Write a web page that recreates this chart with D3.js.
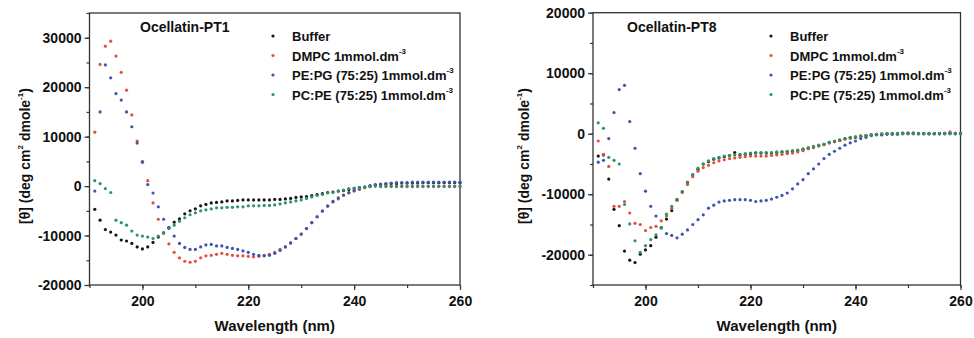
<!DOCTYPE html>
<html>
<head>
<meta charset="utf-8">
<script src="https://cdn.jsdelivr.net/npm/d3@7"></script>
<style>
  body { margin: 0; background: #fff; }
  svg { display: block; font-family: "Liberation Sans", Arial, sans-serif; font-weight: bold; }
</style>
</head>
<body>
<div id="chart"></div>
<script>
// longitudes de onda (nm)
const wavelength = [191,192,193,194,195,196,197,198,199,200,201,202,203,204,205,206,207,208,209,210,
  211,212,213,214,215,216,217,218,219,220,221,222,223,224,225,226,227,228,229,230,
  231,232,233,234,235,236,237,238,239,240,241,242,243,244,245,246,247,248,249,250,
  251,252,253,254,255,256,257,258,259,260];

const seriesNames = ["Buffer", "DMPC 1mmol.dm", "PE:PG (75:25) 1mmol.dm", "PC:PE (75:25) 1mmol.dm"];
const seriesColors = ["#151515", "#e2503a", "#3e55ad", "#2f9464"];

// Ocellatin-PT1
const pt1_buffer = [-4700,-6900,-8800,-9300,-9900,-10900,-11100,-11600,-12300,-12700,-12300,-11400,-10300,-9500,-8400,-7300,-6600,-5600,-5000,-4600,
  -4000,-3700,-3400,-3300,-3200,-3000,-3000,-2900,-2800,-2800,-2800,-2800,-2800,-2800,-2700,-2700,-2600,-2500,-2300,-2200,
  -2100,-1900,-1700,-1500,-1300,-1200,-1000,-900,-700,-500,-300,-200,0,200,300,400,500,500,600,600,
  600,600,700,700,700,700,700,700,700,700];
const pt1_dmpc = [10900,24600,28300,29300,26300,23000,19400,14400,9100,5000,1100,-3400,-6700,-9500,-11700,-13400,-14500,-15200,-15400,-15200,
  -14500,-14100,-14000,-13800,-13600,-13800,-14000,-14100,-14100,-14200,-14300,-14200,-14000,-13800,-13400,-12800,-12300,-11500,-10600,-9700,
  -8600,-7400,-6200,-5100,-4100,-3200,-2600,-1900,-1400,-1000,-700,-300,-100,0,0,-100,0,0,-100,0,
  0,-100,0,0,-100,0,0,-100,0,0];
const pt1_pepg = [-1000,15000,24500,21900,18700,17400,15000,12000,8700,4800,300,-1400,-4200,-6700,-8400,-10100,-11600,-12400,-12800,-12800,
  -12300,-11900,-11800,-12100,-12100,-12400,-12600,-12800,-13100,-13400,-13800,-14000,-14100,-14000,-13600,-13000,-12300,-11500,-10600,-9700,
  -8600,-7400,-6200,-5000,-4000,-3100,-2400,-1800,-1300,-900,-500,-200,100,300,400,500,600,700,700,700,
  800,800,800,800,800,800,800,800,800,800];
const pt1_pcpe = [1100,500,-500,-1300,-6900,-7400,-7900,-9100,-9900,-10100,-10300,-10600,-10100,-9400,-8600,-7900,-7100,-6400,-5800,-5400,
  -5000,-4800,-4600,-4400,-4400,-4300,-4300,-4200,-4200,-4000,-4000,-4000,-3900,-3900,-3800,-3600,-3400,-3200,-3000,-2800,
  -2500,-2200,-1900,-1700,-1400,-1200,-1000,-800,-500,-400,-300,-200,-100,0,-100,0,-100,-100,0,-100,
  -100,0,-100,-100,0,-100,-100,0,-100,-100];

// Ocellatin-PT8
const pt8_buffer = [-3700,-3500,-7500,-12500,-15200,-19400,-20900,-21300,-19900,-19200,-18500,-17100,-15500,-14100,-12700,-10900,-9600,-8100,-6800,-5900,
  -5000,-4600,-4200,-4000,-3800,-3600,-3100,-3500,-3400,-3300,-3200,-3200,-3200,-3200,-3100,-3000,-3000,-2900,-2800,-2600,
  -2400,-2200,-2000,-1800,-1500,-1300,-1100,-800,-700,-600,-400,-300,-200,-100,-100,0,0,0,100,100,
  100,0,0,0,0,0,0,100,0,0];
const pt8_dmpc = [-1200,-3400,-5400,-12000,-12000,-11200,-13100,-14800,-15000,-16000,-15500,-15300,-14400,-13600,-12300,-11000,-9700,-8400,-7100,-6200,
  -5600,-5200,-4800,-4500,-4300,-4100,-4000,-3900,-3800,-3700,-3700,-3700,-3700,-3600,-3500,-3400,-3300,-3200,-3000,-2800,
  -2500,-2300,-2000,-1800,-1500,-1300,-1100,-900,-700,-500,-400,-300,-200,-100,-100,0,0,0,0,100,
  100,0,0,0,0,0,100,300,100,0];
const pt8_pepg = [-4700,-4400,-800,3500,7300,8000,2000,-2400,-6600,-9500,-12000,-13600,-15600,-16500,-16800,-17200,-16600,-15900,-15000,-14200,
  -13400,-12300,-11800,-11300,-11100,-11000,-10900,-10900,-10900,-11000,-11200,-11100,-11000,-10800,-10500,-10200,-9800,-9100,-8300,-7600,
  -6600,-5800,-5000,-4100,-3400,-2900,-2400,-1900,-1500,-1200,-800,-600,-300,-200,-200,-100,-100,-100,0,0,
  0,0,0,0,0,0,0,0,0,0];
const pt8_pcpe = [1800,900,-3900,-4400,-5000,-11700,-14900,-17700,-19600,-18500,-17500,-16700,-15500,-13300,-12000,-10900,-9600,-8000,-6800,-5700,
  -5000,-4500,-4100,-3900,-3700,-3600,-3500,-3400,-3300,-3200,-3100,-3100,-3100,-3100,-3000,-3000,-2900,-2800,-2700,-2500,
  -2300,-2100,-1900,-1700,-1400,-1200,-1000,-800,-600,-500,-400,-300,-200,-100,0,0,0,0,0,0,
  0,0,0,0,0,0,0,0,0,0];

const yTicksPT1 = [-20000, -10000, 0, 10000, 20000, 30000];
const yTicksPT8 = [-20000, -10000, 0, 10000, 20000];
const xTicks = [200, 220, 240, 260];

const svg = d3.select("#chart").append("svg")
    .attr("width", 974)
    .attr("height", 338);

// etiquetas con guion normal, como en la figura original
const plainFormat = d => String(d);

function panel(cfg) {
  const x = d3.scaleLinear().domain([190, 260]).range([cfg.left, cfg.right]);
  const y = d3.scaleLinear().domain(cfg.yDomain).range([285, cfg.top]);
  const g = svg.append("g");

  // ejes con ticks mayores y menores
  const xMinor = [190, 200, 210, 220, 230, 240, 250, 260];
  g.append("g")
    .attr("transform", `translate(0,285)`)
    .call(d3.axisBottom(x).tickValues(xMinor).tickSize(3).tickFormat(""))
    .call(a => a.select(".domain").remove());
  g.append("g")
    .attr("transform", `translate(0,285)`)
    .call(d3.axisBottom(x).tickValues(xTicks).tickSize(5).tickPadding(6).tickFormat(plainFormat))
    .call(a => a.select(".domain").remove())
    .call(a => a.selectAll("text").attr("font-size", 14).attr("font-weight", "bold").attr("fill", "#111")
      .attr("font-family", "Liberation Sans, Arial, sans-serif"));

  const yMinor = d3.range(cfg.yDomain[0], cfg.yDomain[1] + 1, 5000);
  g.append("g")
    .attr("transform", `translate(${cfg.left},0)`)
    .call(d3.axisLeft(y).tickValues(yMinor).tickSize(3).tickFormat(""))
    .call(a => a.select(".domain").remove());
  g.append("g")
    .attr("transform", `translate(${cfg.left},0)`)
    .call(d3.axisLeft(y).tickValues(cfg.yTicks).tickSize(5).tickPadding(3).tickFormat(plainFormat))
    .call(a => a.select(".domain").remove())
    .call(a => a.selectAll("text").attr("font-size", 14).attr("font-weight", "bold").attr("fill", "#111")
      .attr("font-family", "Liberation Sans, Arial, sans-serif"));
  g.selectAll(".tick line").attr("stroke", "#333").attr("stroke-width", 1.2);

  // marco
  g.append("rect")
    .attr("x", cfg.left).attr("y", cfg.top)
    .attr("width", cfg.right - cfg.left).attr("height", 285 - cfg.top)
    .attr("fill", "none").attr("stroke", "#333").attr("stroke-width", 1.3);

  // puntos
  cfg.series.forEach((vals, i) => {
    g.append("g").selectAll("circle")
      .data(vals)
      .join("circle")
      .attr("cx", (d, j) => x(wavelength[j]))
      .attr("cy", d => y(d))
      .attr("r", 1.6)
      .attr("fill", seriesColors[i]);
  });

  // titulo
  g.append("text").attr("x", cfg.titleX).attr("y", 32)
    .attr("font-size", 14).attr("fill", "#111").text(cfg.title);

  // leyenda
  seriesNames.forEach((name, i) => {
    const yy = 36 + i * 19.5;
    g.append("circle").attr("cx", cfg.legendX).attr("cy", yy).attr("r", 1.6).attr("fill", seriesColors[i]);
    const t = g.append("text").attr("x", cfg.legendX + 19).attr("y", yy + 5)
      .attr("font-size", 13).attr("fill", "#111").text(name);
    if (i > 0) t.append("tspan").attr("dy", -7).attr("font-size", 8).text("-3");
  });

  // etiquetas de ejes
  g.append("text")
    .attr("x", (cfg.left + cfg.right) / 2).attr("y", 331)
    .attr("text-anchor", "middle").attr("font-size", 15).attr("fill", "#111")
    .text("Wavelength (nm)");
  const yl = g.append("text")
    .attr("transform", `translate(${cfg.yLabelX},156) rotate(-90)`)
    .attr("text-anchor", "middle").attr("font-size", 14).attr("fill", "#111");
  yl.append("tspan").text("[θ] (deg cm");
  yl.append("tspan").attr("dy", -7).attr("font-size", 8).text("2");
  yl.append("tspan").attr("dy", 7).text(" dmole");
  yl.append("tspan").attr("dy", -7).attr("font-size", 8).text("-1");
  yl.append("tspan").attr("dy", 7).text(")");
}

panel({
  left: 89.5, right: 460, top: 13, yDomain: [-20000, 35000], yTicks: yTicksPT1,
  series: [pt1_buffer, pt1_dmpc, pt1_pepg, pt1_pcpe],
  title: "Ocellatin-PT1", titleX: 140, legendX: 273, yLabelX: 30
});
panel({
  left: 593, right: 960.5, top: 12.7, yDomain: [-25000, 20000], yTicks: yTicksPT8,
  series: [pt8_buffer, pt8_dmpc, pt8_pepg, pt8_pcpe],
  title: "Ocellatin-PT8", titleX: 627, legendX: 771, yLabelX: 529
});
</script>
</body>
</html>
